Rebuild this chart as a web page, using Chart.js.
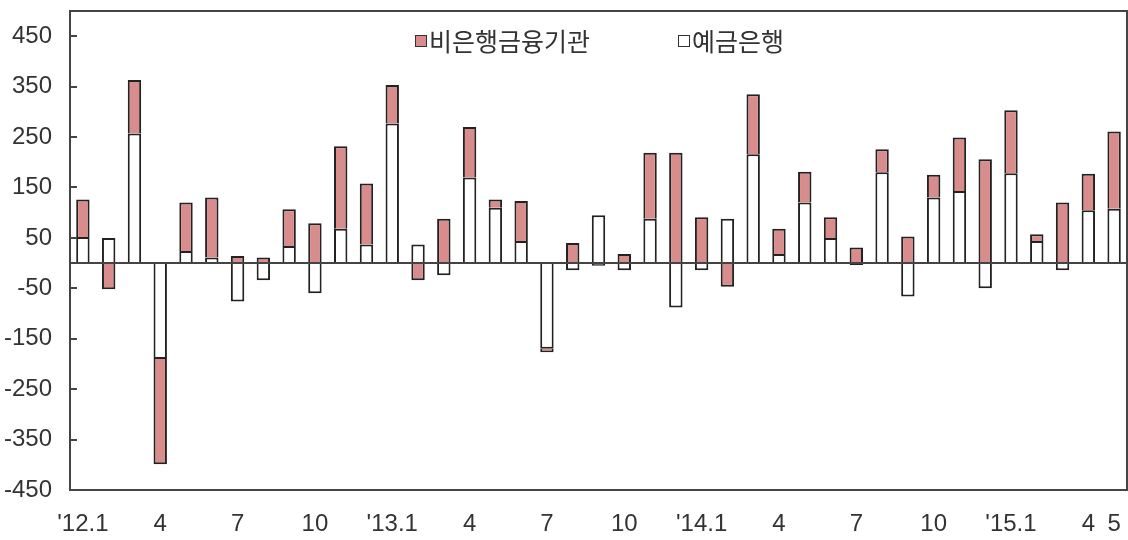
<!DOCTYPE html>
<html>
<head>
<meta charset="utf-8">
<script src="https://cdn.jsdelivr.net/npm/chart.js@4/dist/chart.umd.min.js"></script>
<style>
  html, body { margin: 0; padding: 0; background: #fff; }
  #wrap { width: 1128px; height: 540px; }
</style>
</head>
<body>
<div id="wrap"><canvas id="flowChart" width="1128" height="540"></canvas></div>
<script>
const months = [
  "'12.1", "2", "3", "4", "5", "6", "7", "8", "9", "10", "11", "12",
  "'13.1", "2", "3", "4", "5", "6", "7", "8", "9", "10", "11", "12",
  "'14.1", "2", "3", "4", "5", "6", "7", "8", "9", "10", "11", "12",
  "'15.1", "2", "3", "4", "5"
];

// 예금은행 (white)
const depositBanks = [
  52, 50, 257, -190, 24, 11, -76, -34, 34, -60, 68, 37,
  277, 37, -24, 170, 110, 44, -170, -14, 95, -14, 88, -88,
  -14, 88, 216, 18, 120, 50, -4, 180, -66, 130, 143, -50,
  178, 44, -14, 105, 108
];

// 비은행금융기관 (pink)
const nonBanks = [
  74, -52, 106, -209, 96, 119, 14, 11, 73, 79, 164, 121,
  76, -34, 88, 100, 16, 79, -7, 40, -5, 18, 131, 219,
  91, -47, 119, 50, 61, 41, 31, 46, 53, 45, 106, 206,
  125, 13, 120, 72, 153
];

const yTicks = [-450, -350, -250, -150, -50, 50, 150, 250, 350, 450];

const pink = "#d98c8c";
const edge = "#222222";
const axisColor = "#444444";

const framePlugin = {
  id: "frame",
  afterDatasetsDraw(chart) {
    const { ctx, chartArea: a, scales } = chart;
    const y = scales.y;
    ctx.save();
    ctx.strokeStyle = axisColor;
    ctx.lineWidth = 2;
    // zero line
    const y0 = Math.round(y.getPixelForValue(0));
    ctx.beginPath();
    ctx.moveTo(a.left, y0);
    ctx.lineTo(a.right, y0);
    ctx.stroke();
    // box
    ctx.strokeRect(a.left, a.top, a.right - a.left, a.bottom - a.top);
    // inward tick marks
    yTicks.forEach(v => {
      const py = Math.round(y.getPixelForValue(v));
      ctx.beginPath();
      ctx.moveTo(a.left, py);
      ctx.lineTo(a.left + 7, py);
      ctx.stroke();
    });
    ctx.restore();
  }
};

const legendPlugin = {
  id: "innerLegend",
  afterDraw(chart) {
    const { ctx } = chart;
    const items = [
      { ds: chart.data.datasets[1], x: 415 },
      { ds: chart.data.datasets[0], x: 678 }
    ];
    ctx.save();
    ctx.font = "25px 'Noto Sans CJK KR'";
    ctx.textBaseline = "middle";
    items.forEach(it => {
      ctx.fillStyle = it.ds.backgroundColor;
      ctx.fillRect(it.x, 35, 12, 12);
      ctx.strokeStyle = "#333";
      ctx.lineWidth = 1;
      ctx.strokeRect(it.x + 0.5, 35.5, 11, 11);
      ctx.fillStyle = "#333";
      ctx.fillText(it.ds.label, it.x + 14, 41);
    });
    ctx.restore();
  }
};

const ctx = document.getElementById("flowChart").getContext("2d");
const chart = new Chart(ctx, {
  type: "bar",
  data: {
    labels: months,
    datasets: [
      {
        label: "예금은행",
        data: depositBanks,
        backgroundColor: "#ffffff",
        borderColor: edge,
        borderWidth: 2,
        borderSkipped: "start",
        barPercentage: 0.52,
        categoryPercentage: 1
      },
      {
        label: "비은행금융기관",
        data: nonBanks,
        backgroundColor: pink,
        borderColor: edge,
        borderWidth: 2,
        borderSkipped: "start",
        barPercentage: 0.52,
        categoryPercentage: 1
      }
    ]
  },
  options: {
    responsive: false,
    animation: false,
    layout: { padding: { top: 11, right: 1, left: 0, bottom: 0 } },
    plugins: {
      legend: { display: false },
      tooltip: { enabled: false }
    },
    scales: {
      x: {
        stacked: true,
        grid: { display: false, drawTicks: false },
        border: { display: false },
        ticks: {
          autoSkip: false,
          maxRotation: 0,
          padding: 20,
          color: "#333",
          font: { family: "Liberation Sans", size: 24 },
          callback: (val, i) => (i % 3 === 0 || i === months.length - 1) ? months[i] : ""
        },
        afterFit: s => {
          s.height = 50;
          s.paddingLeft = 0;
          s.paddingRight = 0;
        }
      },
      y: {
        stacked: true,
        min: -450,
        max: 500,
        grid: { display: false, drawTicks: false },
        border: { display: false },
        afterBuildTicks: s => { s.ticks = yTicks.map(v => ({ value: v })); },
        ticks: {
          padding: 18,
          color: "#333",
          font: { family: "Liberation Sans", size: 24 }
        },
        afterFit: s => {
          s.width = 70;
          s.paddingTop = 0;
          s.paddingBottom = 0;
        }
      }
    }
  },
  plugins: [framePlugin, legendPlugin]
});
</script>
</body>
</html>
